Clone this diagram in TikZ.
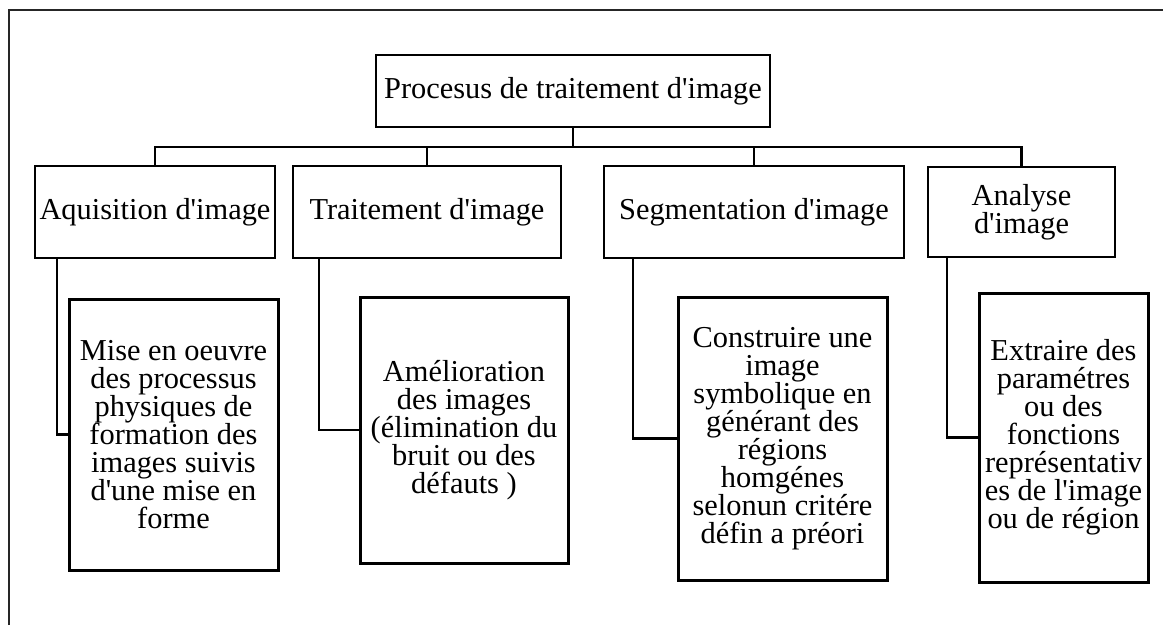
\documentclass[tikz,border=0pt]{standalone}
\usepackage{fontspec}
\setmainfont{Liberation Serif}[Ligatures=TeXOff]
\begin{document}
\begin{tikzpicture}[x=1pt,y=-1pt,
  every node/.style={font=\fontsize{30.4}{28}\selectfont, align=center, inner sep=0pt},
  lvone/.style={draw, line width=2pt, minimum height=72pt},
  lvtwo/.style={draw, line width=2.2pt, minimum height=92pt},
  lvthree/.style={draw, line width=3pt},
  conn/.style={line width=2.2pt}]
\useasboundingbox (0,0) rectangle (1163,625);
\draw[line width=2.5pt, black!85] (9,625) -- (9,10) -- (1163,10);
\node[lvone, minimum width=394pt] (top) at (573,91) {Procesus de traitement d'image};
\node[lvtwo, minimum width=240pt] (a) at (155,212) {Aquisition d'image};
\node[lvtwo, minimum width=268pt] (b) at (427,212) {Traitement d'image};
\node[lvtwo, minimum width=300pt] (c) at (754,212) {Segmentation d'image};
\node[lvtwo, minimum width=187pt, minimum height=90pt] (d) at (1021.5,212) {Analyse\\d'image};
\node[lvthree, minimum width=209pt, minimum height=271pt] (la) at (173.5,434.5)
  {Mise en oeuvre\\des processus\\physiques de\\formation des\\images suivis\\d'une mise en\\forme};
\node[lvthree, minimum width=208pt, minimum height=266pt] (lb) at (464,430)
  {Amélioration\\des images\\(élimination du\\bruit ou des\\défauts )};
\node[lvthree, minimum width=209pt, minimum height=283pt] (lc) at (782.5,438.5)
  {Construire une\\image\\symbolique en\\générant des\\régions\\homgénes\\selonun critére\\défin a préori};
\node[lvthree, minimum width=169pt, minimum height=289pt] (ld) at (1063.5,437.5)
  {Extraire des\\paramétres\\ou des\\fonctions\\représentativ\\es de l'image\\ou de région};
\coordinate (bus) at (573,147);
\draw[conn] (top.south) -- (top.south |- bus);
\draw[conn] (a.north) -- (a.north |- bus) -| (d.north);
\draw[conn] (b.north) -- (b.north |- bus);
\draw[conn] (c.north) -- (c.north |- bus);
\draw[conn] ([xshift=23pt]a.south west) |- (la.west);
\draw[conn] ([xshift=27pt]b.south west) |- (lb.west);
\draw[conn] ([xshift=30pt]c.south west) |- (lc.west);
\draw[conn] ([xshift=20pt]d.south west) |- (ld.west);
\end{tikzpicture}
\end{document}
